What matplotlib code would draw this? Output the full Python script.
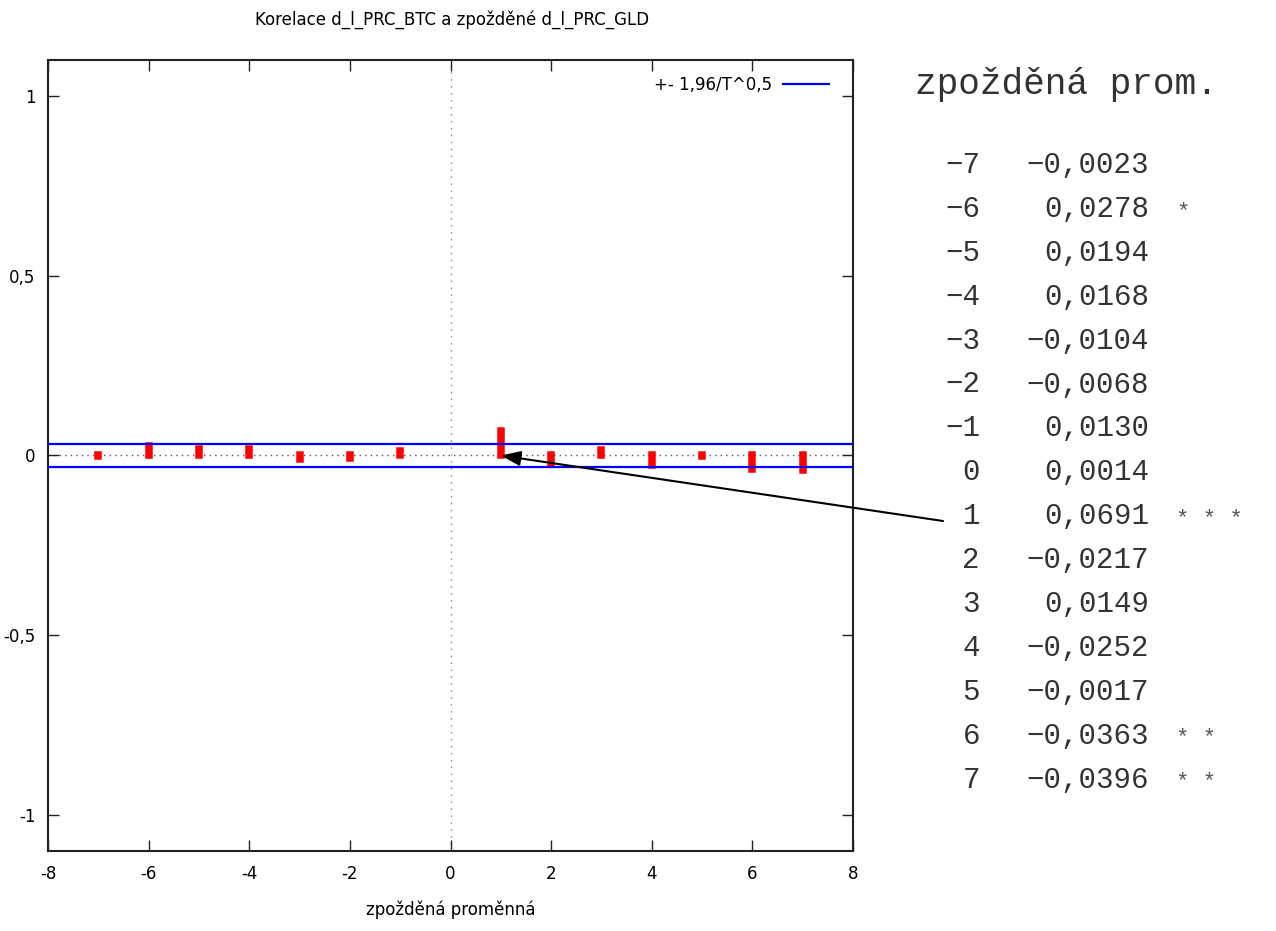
import numpy as np
import matplotlib
matplotlib.use("Agg")
import matplotlib.pyplot as plt

# ---- data ----
lags = [-7, -6, -5, -4, -3, -2, -1, 0, 1, 2, 3, 4, 5, 6, 7]
corr = [-0.0023, 0.0278, 0.0194, 0.0168, -0.0104, -0.0068, 0.0130, 0.0014,
        0.0691, -0.0217, 0.0149, -0.0252, -0.0017, -0.0363, -0.0396]
stars = ["", "*", "", "", "", "", "", "", "***", "", "", "", "", "**", "**"]
bound = 0.0325          # 1,96/T^0,5
title = "Korelace d_l_PRC_BTC a zpožděné d_l_PRC_GLD"
xlabel = "zpožděná proměnná"
legend_label = "+- 1,96/T^0,5"
table_header = "zpožděná prom."
xticks = [-8, -6, -4, -2, 0, 2, 4, 6, 8]
yticks = [-1, -0.5, 0, 0.5, 1]
ytick_labels = ["-1", "-0,5", "0", "0,5", "1"]

W, H = 1276, 931
fig = plt.figure(figsize=(W / 100, H / 100), dpi=100)
sans = ["Liberation Sans Narrow", "DejaVu Sans"]
fs = 12

ax = fig.add_axes([48 / W, 1 - 851 / H, (853 - 48) / W, (851 - 60) / H])
ax.set_xlim(-8, 8)
ax.set_ylim(-1.1, 1.1)

# zero lines (dotted)
ax.axhline(0, color="#555555", lw=1.0, ls=(0, (1, 3)), zorder=1)
ax.axvline(0, color="#888888", lw=1.0, ls=(0, (1, 4)), zorder=1)

# bars
ax.vlines(lags, 0, corr, color="#ff0000", lw=5.4, capstyle="projecting", zorder=3)

# bounds
ax.axhline(bound, color="#0000ff", lw=1.6, zorder=4, label=legend_label)
ax.axhline(-bound, color="#0000ff", lw=1.6, zorder=4)

ax.set_xticks(xticks)
ax.set_xticklabels([str(v) for v in xticks], family=sans, fontsize=fs)
ax.set_yticks(yticks)
ax.set_yticklabels(ytick_labels, family=sans, fontsize=fs)
ax.tick_params(direction="in", length=8, width=1.0, top=True, right=True,
               color="#222222", pad=10)
ax.tick_params(axis="y", pad=9)
for s in ax.spines.values():
    s.set_linewidth(1.5)
    s.set_color("#222222")

ax.set_xlabel(xlabel, family=sans, fontsize=fs, labelpad=13)
fig.text(452 / W, 1 - 20 / H, title, ha="center", va="center", family=sans, fontsize=fs)

leg = ax.legend(loc="upper right", frameon=False, prop={"family": sans, "size": fs},
                markerfirst=False, handlelength=2.8, handletextpad=0.6,
                borderaxespad=0.3, bbox_to_anchor=(0.985, 0.995))

# ---- table on the right ----
mono = ["Liberation Mono", "DejaVu Sans Mono"]


def fpos(x, y):
    return x / W, 1 - y / H


tc = "#333333"
fig.text(*fpos(915, 85), table_header, family=mono, fontsize=26, color=tc,
         ha="left", va="center")
row0, step = 165, 43.9
for i, (lag, c, st) in enumerate(zip(lags, corr, stars)):
    y = row0 + i * step
    lag_s = str(lag).replace("-", "\u2212")
    val_s = f"{c:.4f}".replace(".", ",").replace("-", "\u2212")
    fig.text(*fpos(980, y), lag_s, family=mono, fontsize=21, color=tc,
             ha="right", va="center")
    fig.text(*fpos(1149, y), val_s, family=mono, fontsize=21, color=tc,
             ha="right", va="center")
    if st:
        fig.text(*fpos(1176, y + 3), " ".join(st), family=mono, fontsize=16,
                 color="#555555", ha="left", va="center")

# arrow from table row "1" to the lag-1 bar
ax.annotate("", xy=(lags[8], 0), xycoords="data",
            xytext=fpos(943, 521), textcoords="figure fraction",
            arrowprops=dict(arrowstyle="-|>,head_length=1.2,head_width=0.45",
                            color="black", lw=1.5, shrinkA=0, shrinkB=0),
            zorder=6)

fig.savefig("out.png", dpi=100)
